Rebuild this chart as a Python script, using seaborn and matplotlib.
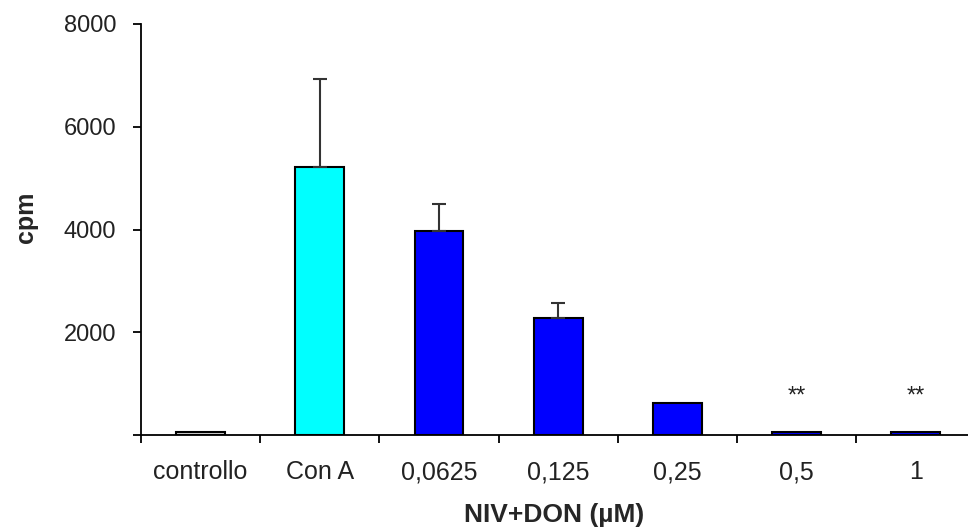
import numpy as np
import pandas as pd
import matplotlib
matplotlib.use("Agg")
import matplotlib.pyplot as plt
import seaborn as sns

categories = ["controllo", "Con A", "0,0625", "0,125", "0,25", "0,5", "1"]
cpm = [60, 5220, 3970, 2280, 620, 60, 60]
cpm_err = [0, 1710, 525, 290, 0, 0, 0]
bar_colors = ["#d6d6d6", "#00ffff", "#0000ff", "#0000ff", "#0000ff", "#0000ff", "#0000ff"]
stars = ["", "", "", "", "", "**", "**"]
y_ticks = [0, 2000, 4000, 6000, 8000]
y_labels = ["", "2000", "4000", "6000", "8000"]

sns.set_style("ticks")
plt.rcParams["font.family"] = ["Liberation Sans", "DejaVu Sans"]

df = pd.DataFrame({"group": categories, "cpm": cpm})

fig = plt.figure(figsize=(9.68, 5.32), dpi=100)
ax = fig.add_axes([0.1457, 0.1823, 0.8543, 0.7726])

sns.barplot(data=df, x="group", y="cpm", hue="group", palette=bar_colors, saturation=1,
            width=0.41, edgecolor="black", linewidth=1.5, legend=False, ax=ax)

# error bars only upward
x = np.arange(len(categories))
err = np.array(cpm_err)
has_err = err > 0
ax.errorbar(x[has_err], np.array(cpm)[has_err], yerr=[np.zeros(has_err.sum()), err[has_err]],
            fmt="none", ecolor="#333333", elinewidth=1.5, capsize=5, capthick=1.5)

for i, s in enumerate(stars):
    if s:
        ax.text(i, 640, s, ha="center", va="baseline", fontsize=17, color="#222222")

ax.set_ylim(0, 8000)
ax.set_xlim(-0.5, 6.44)
ax.set_yticks(y_ticks)
ax.set_yticklabels(y_labels, fontsize=17, color="#222222")

# category labels at centres, tick marks at boundaries
ax.set_xticks(x)
ax.set_xticklabels(categories, fontsize=18, color="#222222")
ax.tick_params(axis="x", which="major", bottom=False, length=0, pad=18)
ax.set_xticks(np.arange(-0.5, 6.5, 1.0), minor=True)
ax.tick_params(axis="x", which="minor", bottom=True, length=5.8, width=1.3, color="black", direction="out")
ax.tick_params(axis="y", which="major", left=True, length=5.8, width=1.3, color="black", direction="out", pad=12)

for side in ["top", "right"]:
    ax.spines[side].set_visible(False)
for side in ["left", "bottom"]:
    ax.spines[side].set_color("black")
    ax.spines[side].set_linewidth(1.3)

ax.set_xlabel("NIV+DON (\u00b5M)", fontsize=19, fontweight="bold", labelpad=14)
ax.set_ylabel("cpm", fontsize=18, fontweight="bold")
ax.yaxis.set_label_coords(-0.125, 0.53)

fig.savefig("out.png", dpi=100)
